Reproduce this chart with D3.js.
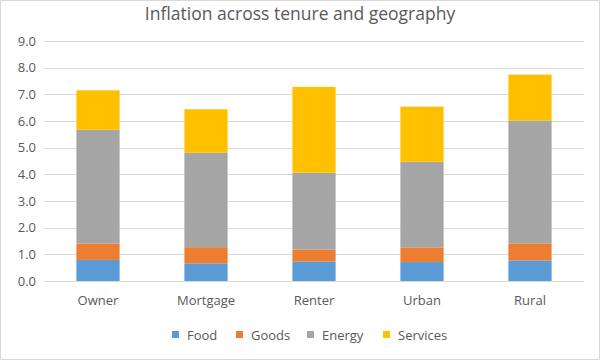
<!DOCTYPE html>
<html>
<head>
<meta charset="utf-8">
<script src="https://cdn.jsdelivr.net/npm/d3@7"></script>
<style>
  body { margin: 0; background: #fff; }
  text { font-family: "Open Sans", "Noto Sans", sans-serif; }
</style>
</head>
<body>
<svg id="chart" width="600" height="360"></svg>
<script>
const categories = ["Owner", "Mortgage", "Renter", "Urban", "Rural"];
const seriesNames = ["Food", "Goods", "Energy", "Services"];
const food = [0.79, 0.66, 0.73, 0.71, 0.77];
const goods = [0.61, 0.61, 0.45, 0.55, 0.64];
const energy = [4.27, 3.54, 2.88, 3.21, 4.61];
const services = [1.48, 1.63, 3.22, 2.07, 1.72];
const yTicks = [0, 1, 2, 3, 4, 5, 6, 7, 8, 9];
const colors = ["#5B9BD5", "#ED7D31", "#A5A5A5", "#FFC000"];

const rows = categories.map((c, i) => ({
  category: c, Food: food[i], Goods: goods[i], Energy: energy[i], Services: services[i]
}));

const svg = d3.select("#chart");
const W = 600, H = 360;
const margin = { left: 44, right: 16, top: 41, bottom: 79 };

svg.append("rect").attr("x", 0.5).attr("y", 0.5).attr("width", W - 1).attr("height", H - 1)
  .attr("fill", "#fff").attr("stroke", "#d9d9d9");

const x = d3.scaleBand().domain(categories)
  .range([margin.left, W - margin.right]).paddingInner(0.6).paddingOuter(0.3);
const y = d3.scaleLinear().domain([0, 9]).range([H - margin.bottom, margin.top]);

// gridlines
svg.append("g").selectAll("line").data(yTicks).join("line")
  .attr("x1", margin.left).attr("x2", W - margin.right)
  .attr("y1", d => Math.round(y(d)) + 0.5).attr("y2", d => Math.round(y(d)) + 0.5)
  .attr("stroke", "#d9d9d9").attr("stroke-width", 1);

// y axis labels
const yAxis = d3.axisLeft(y).tickValues(yTicks).tickFormat(d3.format(".1f")).tickSize(0).tickPadding(8);
const gy = svg.append("g").attr("transform", `translate(${margin.left},0)`).call(yAxis);
gy.select(".domain").remove();
gy.selectAll("text").attr("fill", "#595959").style("font-size", "13px");

// stacked bars
const stack = d3.stack().keys(seriesNames);
const layers = stack(rows);
svg.append("g").selectAll("g").data(layers).join("g")
  .attr("fill", (d, i) => colors[i])
  .selectAll("rect").data(d => d).join("rect")
  .attr("x", d => x(d.data.category))
  .attr("width", x.bandwidth())
  .attr("y", d => y(d[1]))
  .attr("height", d => y(d[0]) - y(d[1]));

// x axis
const xAxis = d3.axisBottom(x).tickSize(0).tickPadding(15);
const gx = svg.append("g").attr("transform", `translate(0,${H - margin.bottom})`).call(xAxis);
gx.select(".domain").attr("stroke", "#d9d9d9").attr("d", `M${margin.left},0.5H${W - margin.right}`);
gx.selectAll("text").attr("fill", "#595959").style("font-size", "13px");

// title
svg.append("text").attr("x", 300).attr("y", 20).attr("text-anchor", "middle")
  .attr("fill", "#595959").style("font-size", "17.5px")
  .text("Inflation across tenure and geography");

// legend
const legendX = [172, 236, 307, 383];
const lg = svg.append("g").selectAll("g").data(seriesNames).join("g")
  .attr("transform", (d, i) => `translate(${legendX[i]},331)`);
lg.append("rect").attr("width", 7).attr("height", 7).attr("y", 0).attr("fill", (d, i) => colors[i]);
lg.append("text").attr("x", 15).attr("y", 8.5).attr("fill", "#595959").style("font-size", "13px").text(d => d);
</script>
</body>
</html>
